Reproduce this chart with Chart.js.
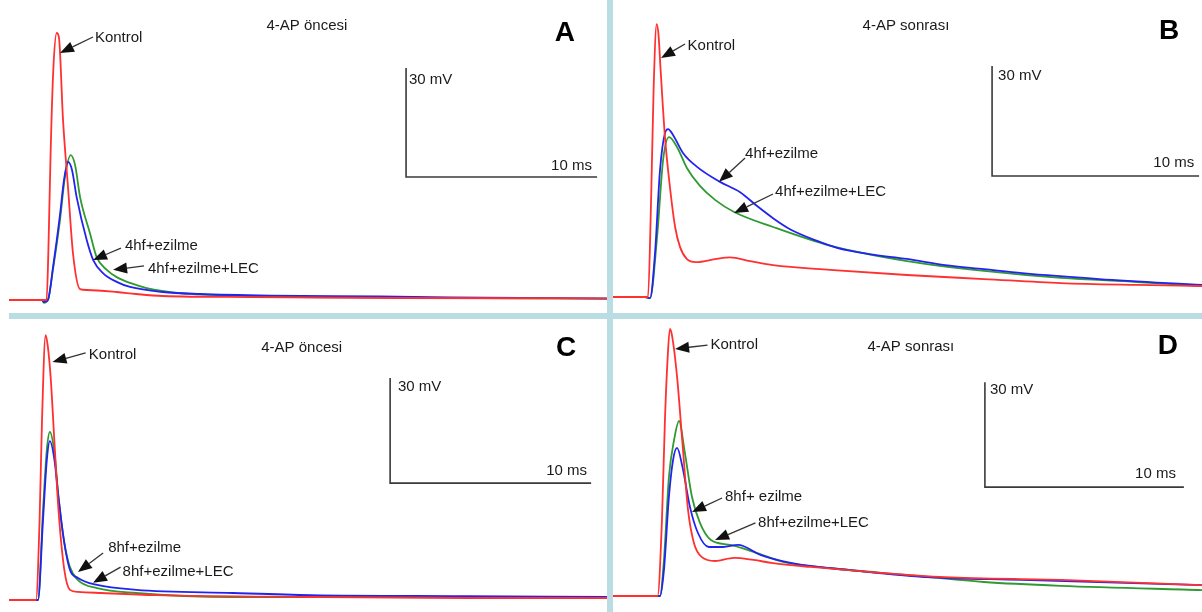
<!DOCTYPE html>
<html>
<head>
<meta charset="utf-8">
<script src="https://cdn.jsdelivr.net/npm/chart.js@4.4.0/dist/chart.umd.min.js"></script>
<style>
  body { margin: 0; background: #fff; }
  #wrap { position: relative; width: 1202px; height: 612px; background: #fff; overflow: hidden; }
  canvas { position: absolute; }
  .band { position: absolute; background: #b9dde2; }
</style>
</head>
<body>
<div id="wrap">
  <canvas id="chartA" width="607" height="313" style="left:0;top:0"></canvas>
  <canvas id="chartB" width="589" height="313" style="left:613px;top:0"></canvas>
  <canvas id="chartC" width="607" height="293" style="left:0;top:319px"></canvas>
  <canvas id="chartD" width="589" height="293" style="left:613px;top:319px"></canvas>
  <div class="band" style="left:607px;top:0;width:6px;height:612px"></div>
  <div class="band" style="left:9px;top:313px;width:1193px;height:6px"></div>
</div>
<script>
// time in ms, membrane potential in mV above resting level
const panelTitles = ['4-AP öncesi', '4-AP sonrası', '4-AP öncesi', '4-AP sonrası'];
const panelLetters = ['A', 'B', 'C', 'D'];
const labelsTop = ['4hf+ezilme', '4hf+ezilme', '8hf+ezilme', '8hf+ ezilme'];
const labelsLec = ['4hf+ezilme+LEC', '4hf+ezilme+LEC', '8hf+ezilme+LEC', '8hf+ezilme+LEC'];

// A
const aKontrolMs = [0, 1.97, 2.06, 2.18, 2.32, 2.50, 2.62, 2.83, 3.09, 3.35, 3.72, 4.08, 5.65, 6.65, 8.06, 12.62, 20.47, 31.31];
const aKontrolMv = [0, 0, 12.9, 40.5, 63.3, 73.5, 72.1, 49.5, 31.1, 12.9, 3.0, 2.75, 2.2, 1.65, 1.1, 0.8, 0.55, 0.47];
const aEzilmeMs = [0, 1.73, 1.83, 2.04, 2.30, 2.67, 2.88, 3.09, 3.30, 3.54, 4.07, 4.41, 4.92, 5.64, 6.34, 8.06, 10.0, 13.66, 19.42, 23.09, 31.31];
const aEzilmeMv = [0, 0, -0.55, 0, 8.8, 23.4, 33.0, 38.0, 35.8, 28.4, 16.5, 11.0, 7.4, 5.0, 3.6, 2.2, 1.65, 1.2, 0.96, 0.7, 0.4];
const aLecMs = [0, 1.73, 1.83, 2.04, 2.30, 2.67, 2.93, 3.23, 3.46, 3.72, 4.24, 4.59, 5.12, 5.64, 6.34, 7.21, 8.95, 12.62, 17.85, 31.31];
const aLecMv = [0, 0, -0.8, 0, 8.3, 22.0, 33.9, 39.9, 37.2, 28.4, 18.4, 11.8, 8.3, 6.3, 4.7, 3.3, 1.9, 1.1, 0.7, 0.4];

// B
const bKontrolMs = [0, 1.69, 1.84, 1.96, 2.11, 2.20, 2.30, 2.51, 2.75, 3.00, 3.24, 3.56, 4.01, 5.01, 5.65, 6.62, 7.73, 10.48, 14.20, 17.92, 21.64, 25.31, 28.45];
const bKontrolMv = [0, 0, 26.5, 56.4, 74.4, 71.4, 61.9, 43.6, 30.0, 19.1, 13.6, 10.4, 9.5, 10.4, 10.8, 9.8, 8.7, 7.4, 6.0, 4.9, 3.8, 3.3, 3.0];
const bEzilmeMs = [0, 1.55, 1.79, 2.03, 2.27, 2.51, 2.66, 2.90, 3.38, 4.06, 5.17, 6.14, 6.96, 7.73, 8.55, 9.86, 10.82, 12.37, 14.20, 16.04, 17.92, 19.76, 23.48, 28.45];
const bEzilmeMv = [0, 0, -0.3, 12.0, 34.6, 44.7, 45.8, 44.2, 39.3, 35.5, 31.4, 28.6, 24.8, 21.5, 18.5, 15.3, 13.4, 11.7, 10.4, 8.7, 7.6, 6.5, 4.9, 3.3];
const bLecMs = [0, 1.55, 1.79, 2.13, 2.42, 2.71, 3.09, 3.57, 4.20, 4.93, 5.85, 7.73, 10.48, 14.20, 17.92, 21.64, 25.31, 28.45];
const bLecMv = [0, 0, -0.3, 16.4, 37.4, 43.6, 40.9, 35.2, 30.3, 26.5, 23.2, 19.1, 14.0, 9.8, 7.1, 5.2, 4.1, 3.0];

// C
const cKontrolMs = [0, 1.34, 1.52, 1.64, 1.82, 1.92, 2.07, 2.26, 2.46, 2.75, 3.03, 3.43, 4.58, 7.31, 15.02, 22.79, 29.75];
const cKontrolMv = [0, 0, 22.9, 51.4, 75.7, 72.9, 63.7, 44.9, 25.7, 8.6, 2.9, 2.3, 2.0, 1.4, 0.86, 0.57, 0.57];
const cEzilmeMs = [0, 1.44, 1.69, 1.88, 2.03, 2.26, 2.46, 2.75, 3.03, 3.43, 4.38, 6.32, 11.14, 15.02, 22.79, 29.75];
const cEzilmeMv = [0, 0, 22.9, 40.0, 45.4, 40.0, 29.4, 16.3, 8.6, 6.3, 4.3, 2.9, 2.0, 1.4, 1.1, 0.86];
const cLecMs = [0, 1.44, 1.69, 1.88, 2.03, 2.26, 2.46, 2.75, 3.03, 3.43, 4.38, 6.32, 11.14, 18.91, 29.75];
const cLecMv = [0, 0, 25.7, 42.9, 48.0, 42.0, 29.4, 16.3, 9.4, 5.7, 3.4, 2.0, 0.86, 0.86, 0.57];

// D
const dKontrolMs = [0, 2.24, 2.46, 2.61, 2.74, 2.86, 2.96, 3.22, 3.49, 3.77, 4.07, 4.47, 5.13, 6.08, 7.06, 8.04, 9.95, 12.86, 16.68, 22.51, 29.6];
const dKontrolMv = [0, 0, 21.7, 50.3, 67.4, 76.3, 74.6, 62.6, 43.7, 24.6, 15.1, 11.1, 10.0, 10.9, 10.3, 9.4, 8.3, 6.9, 5.4, 4.6, 3.1];
const dEzilmeMs = [0, 2.36, 2.56, 2.81, 3.02, 3.22, 3.49, 3.87, 4.27, 4.82, 5.53, 6.28, 7.44, 9.00, 11.88, 15.73, 20.55, 29.6];
const dEzilmeMv = [0, 0, 7.4, 28.3, 38.9, 42.3, 36.9, 25.4, 18.0, 14.0, 14.0, 14.6, 11.7, 9.4, 7.4, 5.4, 4.6, 3.1];
const dLecMs = [0, 2.36, 2.56, 2.81, 3.07, 3.32, 3.59, 3.97, 4.37, 4.92, 5.90, 7.06, 8.59, 10.90, 14.77, 18.64, 22.51, 29.6];
const dLecMv = [0, 0, 10.3, 34.0, 44.6, 50.0, 41.7, 28.3, 20.9, 16.0, 14.6, 12.6, 9.7, 8.0, 6.0, 4.0, 2.9, 1.7];

const RED = '#ff3030';
const BLUE = '#2323f0';
const GREEN = '#2f9a2f';
const INK = '#1a1a1a';
const FONT = '"Liberation Sans", Arial, sans-serif';

function pts(ms, mv) {
    return ms.map((t, i) => ({ x: t, y: mv[i] }));
}

// layout per panel: axis ranges and where scale bars / labels sit (in ms, mV)
const panels = [
    { id: 'chartA', x: [-0.47, 31.31], y: [-3.58, 82.58],
      series: [[aKontrolMs, aKontrolMv], [aEzilmeMs, aEzilmeMv], [aLecMs, aLecMv]],
      title: [15.6, 75.4], letter: [29.11, 73.5], bar: [20.79, 33.86],
      mvText: [20.94, 60.6], msText: [30.52, 36.9],
      kontrol: { text: [4.50, 72.1], from: [4.40, 72.4], tip: [2.67, 68.0] },
      top: { text: [6.07, 14.9], from: [5.86, 14.3], tip: [4.40, 11.0] },
      lec: { text: [7.28, 8.5], from: [7.07, 9.4], tip: [5.45, 8.3] } },
    { id: 'chartB', x: [0, 28.45], y: [-4.36, 81.0],
      series: [[bKontrolMs, bKontrolMv], [bEzilmeMs, bEzilmeMv], [bLecMs, bLecMv]],
      title: [14.15, 73.9], letter: [26.86, 72.5], bar: [18.31, 33.0],
      mvText: [18.6, 60.3], msText: [28.07, 36.5],
      kontrol: { text: [3.60, 68.4], from: [3.48, 69.0], tip: [2.32, 65.2] },
      top: { text: [6.38, 39.0], from: [6.38, 37.9], tip: [5.12, 31.4] },
      lec: { text: [7.83, 28.6], from: [7.73, 28.1], tip: [5.85, 22.9] } },
    { id: 'chartC', x: [-0.45, 29.75], y: [-3.43, 80.29],
      series: [[cKontrolMs, cKontrolMv], [cEzilmeMs, cEzilmeMv], [cLecMs, cLecMv]],
      title: [14.56, 72.0], letter: [27.71, 72.0], bar: [18.96, 33.4],
      mvText: [19.35, 60.9], msText: [28.76, 36.9],
      kontrol: { text: [3.97, 70.0], from: [3.81, 70.6], tip: [2.16, 68.0] },
      top: { text: [4.93, 14.9], from: [4.68, 13.4], tip: [3.43, 8.0] },
      lec: { text: [5.65, 8.0], from: [5.55, 9.4], tip: [4.18, 4.9] } },
    { id: 'chartD', x: [0, 29.6], y: [-4.57, 79.14],
      series: [[dKontrolMs, dKontrolMv], [dEzilmeMs, dEzilmeMv], [dLecMs, dLecMv]],
      title: [14.97, 71.1], letter: [27.89, 71.4], bar: [18.69, 31.1],
      mvText: [18.94, 58.9], msText: [28.29, 34.9],
      kontrol: { text: [4.90, 71.7], from: [4.75, 71.7], tip: [3.12, 70.6] },
      top: { text: [5.63, 28.3], from: [5.48, 28.0], tip: [3.97, 24.0] },
      lec: { text: [7.29, 20.9], from: [7.16, 20.9], tip: [5.13, 16.0] } }
];

function arrow(ctx, x1, y1, x2, y2) {
    const ang = Math.atan2(y2 - y1, x2 - x1);
    const len = 14, half = 5.5;
    const bx = x2 - Math.cos(ang) * len, by = y2 - Math.sin(ang) * len;
    ctx.strokeStyle = '#333';
    ctx.lineWidth = 1.3;
    ctx.beginPath();
    ctx.moveTo(x1, y1);
    ctx.lineTo(bx, by);
    ctx.stroke();
    ctx.fillStyle = '#111';
    ctx.beginPath();
    ctx.moveTo(x2, y2);
    ctx.lineTo(bx + Math.sin(ang) * half, by - Math.cos(ang) * half);
    ctx.lineTo(bx - Math.sin(ang) * half, by + Math.cos(ang) * half);
    ctx.closePath();
    ctx.fill();
}

const marksPlugin = {
    id: 'marks',
    afterDatasetsDraw(chart) {
        const p = chart.options.plugins.marks.panel;
        const i = chart.options.plugins.marks.index;
        const ctx = chart.ctx;
        const X = v => chart.scales.x.getPixelForValue(v);
        const Y = v => chart.scales.y.getPixelForValue(v);
        ctx.save();

        // scale bar: 30 mV up, 10 ms across
        ctx.strokeStyle = '#3a3a3a';
        ctx.lineWidth = 1.6;
        ctx.beginPath();
        ctx.moveTo(X(p.bar[0]), Y(p.bar[1] + 30));
        ctx.lineTo(X(p.bar[0]), Y(p.bar[1]));
        ctx.lineTo(X(p.bar[0] + 10), Y(p.bar[1]));
        ctx.stroke();

        ctx.fillStyle = INK;
        ctx.textBaseline = 'middle';
        ctx.font = '15px ' + FONT;
        ctx.textAlign = 'left';
        ctx.fillText('30 mV', X(p.mvText[0]), Y(p.mvText[1]));
        ctx.textAlign = 'right';
        ctx.fillText('10 ms', X(p.msText[0]), Y(p.msText[1]));
        ctx.textAlign = 'center';
        ctx.fillText(panelTitles[i], X(p.title[0]), Y(p.title[1]));
        ctx.font = 'bold 28px ' + FONT;
        ctx.fillStyle = '#000';
        ctx.fillText(panelLetters[i], X(p.letter[0]), Y(p.letter[1]));

        const notes = [[p.kontrol, 'Kontrol'], [p.top, labelsTop[i]], [p.lec, labelsLec[i]]];
        ctx.font = '15px ' + FONT;
        ctx.textAlign = 'left';
        notes.forEach(([n, txt]) => {
            ctx.fillStyle = INK;
            ctx.fillText(txt, X(n.text[0]), Y(n.text[1]));
            arrow(ctx, X(n.from[0]), Y(n.from[1]), X(n.tip[0]), Y(n.tip[1]));
        });
        ctx.restore();
    }
};

panels.forEach((p, i) => {
    const colors = [RED, BLUE, GREEN];
    const names = ['Kontrol', labelsTop[i], labelsLec[i]];
    const datasets = p.series.map((s, k) => ({
        label: names[k],
        data: pts(s[0], s[1]),
        borderColor: colors[k],
        borderWidth: 1.8,
        pointRadius: 0,
        fill: false,
        cubicInterpolationMode: 'monotone'
    }));
    new Chart(document.getElementById(p.id).getContext('2d'), {
        type: 'line',
        data: { datasets: datasets },
        options: {
            responsive: false,
            animation: false,
            devicePixelRatio: 1,
            layout: { padding: 0 },
            scales: {
                x: { type: 'linear', min: p.x[0], max: p.x[1], display: false },
                y: { type: 'linear', min: p.y[0], max: p.y[1], display: false }
            },
            plugins: {
                legend: { display: false },
                tooltip: { enabled: false },
                marks: { panel: p, index: i }
            }
        },
        plugins: [marksPlugin]
    });
});
</script>
</body>
</html>
